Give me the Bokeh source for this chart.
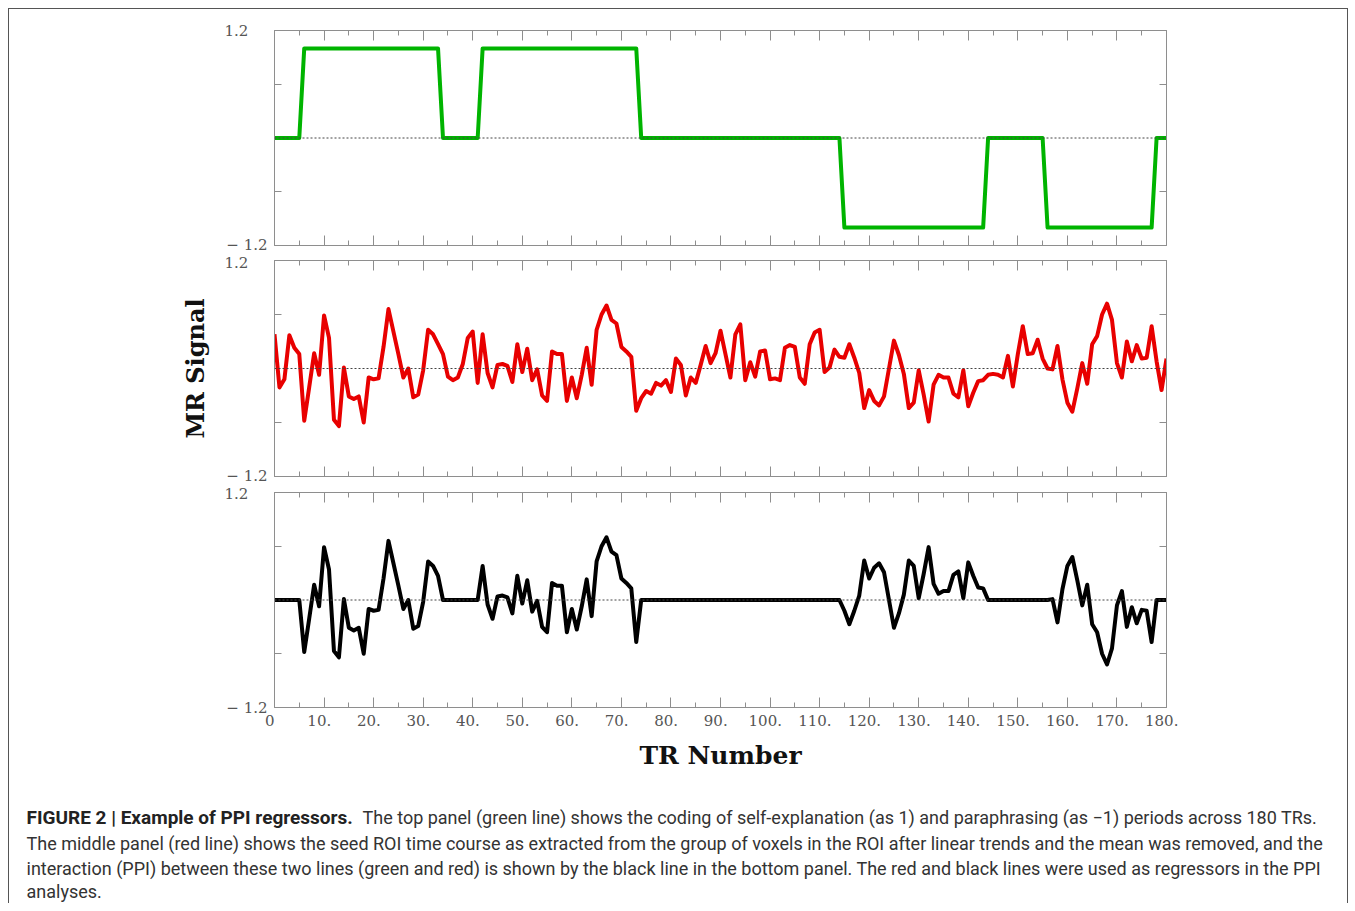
from bokeh.plotting import figure
from bokeh.layouts import column
from bokeh.models import Range1d, LinearAxis, FixedTicker, Span
from bokeh.core.properties import value
from bokeh.embed import file_html
from bokeh.resources import INLINE

# ---------------- data ----------------
tr = list(range(0, 181))

# task coding: self-explanation = 1, paraphrasing = -1, rest = 0
green = ([0] * 6 + [1] * 28 + [0] * 8 + [1] * 32 + [0] * 41 +
         [-1] * 29 + [0] * 12 + [-1] * 22 + [0] * 3)

# seed ROI time course
red = [
    0.38, -0.21, -0.12, 0.37, 0.23, 0.16, -0.58, -0.21, 0.17, -0.07,   # 0-9
    0.59, 0.34, -0.57, -0.64, 0.01, -0.31, -0.34, -0.31, -0.60, -0.10,  # 10-19
    -0.12, -0.11, 0.24, 0.66, 0.41, 0.16, -0.10, 0.00, -0.32, -0.29,   # 20-29
    -0.02, 0.43, 0.38, 0.27, 0.16, -0.09, -0.13, -0.10, 0.05, 0.34,    # 30-39
    0.41, -0.16, 0.38, -0.05, -0.21, 0.04, 0.05, 0.03, -0.15, 0.27,    # 40-49
    -0.04, 0.22, -0.13, -0.01, -0.30, -0.36, 0.19, 0.16, 0.16, -0.36,  # 50-59
    -0.10, -0.33, -0.07, 0.23, -0.18, 0.43, 0.60, 0.70, 0.54, 0.50,    # 60-69
    0.24, 0.19, 0.13, -0.47, -0.33, -0.25, -0.28, -0.16, -0.19, -0.13, # 70-79
    -0.26, 0.11, 0.04, -0.30, -0.10, -0.16, 0.04, 0.25, 0.06, 0.17,    # 80-89
    0.42, 0.16, -0.10, 0.38, 0.49, -0.13, 0.07, -0.09, 0.19, 0.20,     # 90-99
    -0.12, -0.11, -0.13, 0.23, 0.26, 0.24, -0.10, -0.17, 0.27, 0.40,   # 100-109
    0.43, -0.04, 0.01, 0.21, 0.13, 0.12, 0.27, 0.12, -0.05, -0.44,     # 110-119
    -0.24, -0.36, -0.41, -0.31, 0.00, 0.31, 0.15, -0.06, -0.44, -0.38, # 120-129
    -0.02, -0.29, -0.59, -0.18, -0.07, -0.10, -0.10, -0.28, -0.32, -0.02, # 130-139
    -0.42, -0.27, -0.14, -0.13, -0.07, -0.06, -0.07, -0.10, 0.14, -0.20,  # 140-149
    0.16, 0.47, 0.16, 0.17, 0.32, 0.11, 0.00, -0.01, 0.25, -0.12,      # 150-159
    -0.38, -0.48, -0.22, 0.06, -0.17, 0.27, 0.36, 0.60, 0.72, 0.54,    # 160-169
    0.06, -0.10, 0.30, 0.08, 0.26, 0.11, 0.12, 0.47, 0.08, -0.24,      # 170-179
    0.11,                                                              # 180
]

# PPI interaction term (task coding x seed time course)
ppi = [g * r for g, r in zip(green, red)]

x_tick_values = list(range(0, 181, 10))
x_tick_labels = ["0", "10.", "20.", "30.", "40.", "50.", "60.", "70.", "80.", "90.",
                 "100.", "110.", "120.", "130.", "140.", "150.", "160.", "170.", "180."]
x_minor_values = list(range(5, 180, 10))
y_minor_values = [-0.6, 0.6]
y_end_values = [1.2, -1.2]
y_end_labels = ["1.2", "\u22121.2"]

# ---------------- styling ----------------
W = 1338
FRAME_GRAY = "#8e8e8e"
TICK_FONT = "DejaVu Serif"
TITLE_FONT = "DejaVu Serif"
FSP = "\u2007"   # figure space: keeps labels placed like the original
GAP = "\u2004"


def hide_labels(ax):
    ax.major_label_text_color = None
    ax.major_label_text_font_size = "1px"
    ax.major_label_standoff = 0


def panel(ys, color, height, top, bottom, show_x=False, ylabel=None):
    p = figure(width=W, height=height, x_range=Range1d(0, 180), y_range=Range1d(-1.2, 1.2),
               x_axis_location=None, y_axis_location=None, toolbar_location=None,
               output_backend="svg", min_border_left=265, min_border_right=181,
               min_border_top=top, min_border_bottom=bottom)
    p.grid.visible = False
    p.outline_line_color = FRAME_GRAY
    p.outline_line_width = 1
    p.background_fill_color = "white"
    p.border_fill_color = "white"

    p.add_layout(Span(location=0, dimension="width", line_color="#444444",
                      line_dash="2 2", line_width=1))
    p.line(tr, ys, line_color=color, line_width=4, line_join="round")

    for side in ("below", "above"):
        ax = LinearAxis(ticker=FixedTicker(ticks=x_tick_values, minor_ticks=x_minor_values))
        ax.major_tick_in = 10
        ax.major_tick_out = 0
        ax.minor_tick_in = 5
        ax.minor_tick_out = 0
        ax.major_tick_line_color = FRAME_GRAY
        ax.minor_tick_line_color = FRAME_GRAY
        ax.axis_line_color = FRAME_GRAY
        if side == "below" and show_x:
            ax.major_label_overrides = {v: t + FSP for v, t in zip(x_tick_values, x_tick_labels)}
            ax.major_label_text_font = TICK_FONT
            ax.major_label_text_font_size = "15px"
            ax.major_label_text_color = "#555555"
            ax.major_label_standoff = 4
            ax.axis_label = "TR Number"
            ax.axis_label_text_font = TITLE_FONT
            ax.axis_label_text_font_style = "bold"
            ax.axis_label_text_font_size = "25px"
            ax.axis_label_text_color = "#111111"
            ax.axis_label_standoff = 8
        else:
            hide_labels(ax)
        p.add_layout(ax, side)

    for side in ("left", "right"):
        ax = LinearAxis(ticker=FixedTicker(ticks=y_minor_values, minor_ticks=[]))
        ax.major_tick_in = 7
        ax.major_tick_out = 0
        ax.minor_tick_in = 0
        ax.minor_tick_out = 0
        ax.major_tick_line_color = FRAME_GRAY
        ax.axis_line_color = FRAME_GRAY
        hide_labels(ax)
        p.add_layout(ax, side)

    # labels at the ends of the y range
    lab = LinearAxis(ticker=FixedTicker(ticks=y_end_values, minor_ticks=[]))
    lab.major_label_overrides = {1.2: y_end_labels[0] + FSP + FSP,
                                 -1.2: y_end_labels[1][0] + GAP + y_end_labels[1][1:]}
    lab.major_tick_in = 0
    lab.major_tick_out = 0
    lab.minor_tick_in = 0
    lab.minor_tick_out = 0
    lab.axis_line_color = None
    lab.major_tick_line_color = None
    lab.minor_tick_line_color = None
    lab.major_label_text_font = TICK_FONT
    lab.major_label_text_font_size = "15px"
    lab.major_label_text_color = "#555555"
    lab.major_label_standoff = 7
    if ylabel:
        lab.axis_label = ylabel
        lab.axis_label_text_font = TITLE_FONT
        lab.axis_label_text_font_style = "bold"
        lab.axis_label_text_font_size = "24px"
        lab.axis_label_text_color = "#111111"
        lab.axis_label_standoff = 12
    p.add_layout(lab, "left")
    return p


p_top = panel(green, "#00b400", 244, 21, 8)
p_mid = panel(red, "#e80000", 231, 7, 8, ylabel="MR Signal")
p_bot = panel(ppi, "#000000", 306, 8, 83, show_x=True)

# ---------------- caption ----------------
CAP_H = 113
cap = figure(width=W, height=CAP_H, x_range=Range1d(0, W), y_range=Range1d(CAP_H, 0),
             x_axis_location=None, y_axis_location=None, toolbar_location=None,
             output_backend="svg", min_border=0)
cap.frame_align = False
cap.grid.visible = False
cap.outline_line_color = None
cap.background_fill_color = "white"
cap.border_fill_color = "white"

cap_bold = "FIGURE 2 | Example of PPI regressors."
cap_lines = [
    "The top panel (green line) shows the coding of self-explanation (as 1) and paraphrasing (as \u22121) periods across 180 TRs.",
    "The middle panel (red line) shows the seed ROI time course as extracted from the group of voxels in the ROI after linear trends and the mean was removed, and the",
    "interaction (PPI) between these two lines (green and red) is shown by the black line in the bottom panel. The red and black lines were used as regressors in the PPI",
    "analyses.",
]
CAP_FONT = "Roboto"
cap.text(x=[17], y=[27], text=[cap_bold], text_font=value(CAP_FONT), text_font_style="bold",
         text_font_size="19px", text_baseline="middle", text_align="left", text_color="#222222")
cap.text(x=[353, 17, 17, 17], y=[27, 53, 78, 101], text=cap_lines, text_font=value(CAP_FONT),
         text_font_size="18px", text_baseline="middle", text_align="left", text_color="#333333")

layout = column(p_top, p_mid, p_bot, cap, spacing=0,
                styles={"margin-left": "8px", "margin-top": "8px",
                        "border-top": "1px solid #555555",
                        "border-left": "1px solid #555555",
                        "border-right": "1px solid #555555"})

open("out.html", "w").write(file_html(layout, INLINE, title="PPI regressors"))
